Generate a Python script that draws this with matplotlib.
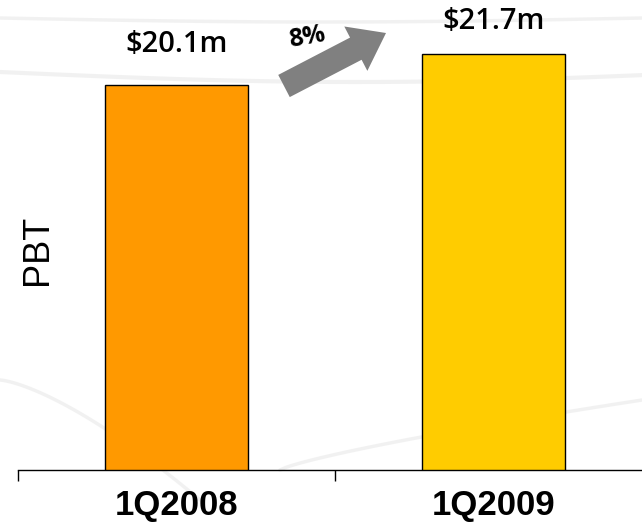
import numpy as np
import matplotlib
matplotlib.use("Agg")
import matplotlib.pyplot as plt
import matplotlib.patches as mpatches
from matplotlib.transforms import IdentityTransform

categories = ["1Q2008", "1Q2009"]
values = [20.1, 21.7]
value_labels = ["$20.1m", "$21.7m"]
growth_label = "8%"
bar_colors = ["#FF9900", "#FFCC00"]
ylabel = "PBT"

# style: vertical offset (pt) of each value label above its bar
label_offsets = [29, 24]

W, H = 642, 523
fig = plt.figure(figsize=(W / 100, H / 100), dpi=100)
fig.patch.set_facecolor("white")

# faint decorative background swooshes (figure pixel coordinates)
def fig_curve(xs, ys, lw, color="#ececec", alpha=0.7):
    fig.add_artist(plt.Line2D(np.array(xs) / W, 1 - np.array(ys) / H,
                              transform=fig.transFigure, color=color, lw=lw,
                              alpha=alpha, zorder=0, solid_capstyle="round"))

t = np.linspace(0, 1, 60)
fig_curve(t * 642, 18 + 4 * np.sin(t * np.pi), 2.5)
fig_curve(t * 642, 72 + 10 * np.sin(t * np.pi * 0.9), 3)
fig_curve(t * 200, 380 + 120 * t ** 1.4, 2.5)
fig_curve(280 + t * 362, 470 - 70 * t ** 0.8, 2.5)

ax = fig.add_axes([18 / W, 53 / H, (652 - 18) / W, 470 / H])
ax.set_facecolor("none")
x = np.arange(len(categories))
ax.bar(x, values, width=0.45, color=bar_colors, edgecolor="black", linewidth=1, zorder=3)
ax.set_xlim(-0.5, len(categories) - 0.5)
ax.set_ylim(0, 24.54)

for xi, v, lab, off in zip(x, values, value_labels, label_offsets):
    ax.annotate(lab, (xi, v), xytext=(0, off), textcoords="offset points",
                ha="center", va="center", fontsize=21, fontfamily="Open Sans",
                fontweight=600)

for s in ["left", "right", "top"]:
    ax.spines[s].set_visible(False)
ax.spines["bottom"].set_linewidth(1.0)
ax.set_yticks([])
ax.set_xticks(x)
ax.set_xticklabels(categories, fontsize=25, fontweight="bold", fontfamily="Liberation Sans")
ax.tick_params(axis="x", which="major", length=0, pad=14)
ax.set_xticks(np.arange(-0.5, len(categories), 1), minor=True)
ax.tick_params(axis="x", which="minor", length=8, width=1, color="black")

fig.text(38 / W, 1 - 250 / H, ylabel, rotation=90, ha="center", va="center",
         fontsize=26, fontfamily="Liberation Sans")

arrow = mpatches.FancyArrow(284, H - 86, 386 - 284, -(33 - 86), width=25, head_width=50,
                            head_length=34, length_includes_head=True,
                            transform=IdentityTransform(), color="#808080", lw=0)
fig.add_artist(arrow)
fig.text(307 / W, 1 - 37 / H, growth_label, rotation=10, ha="center", va="center",
         fontsize=18, fontweight="bold", fontfamily="Open Sans")

fig.savefig("out.png", dpi=100)
